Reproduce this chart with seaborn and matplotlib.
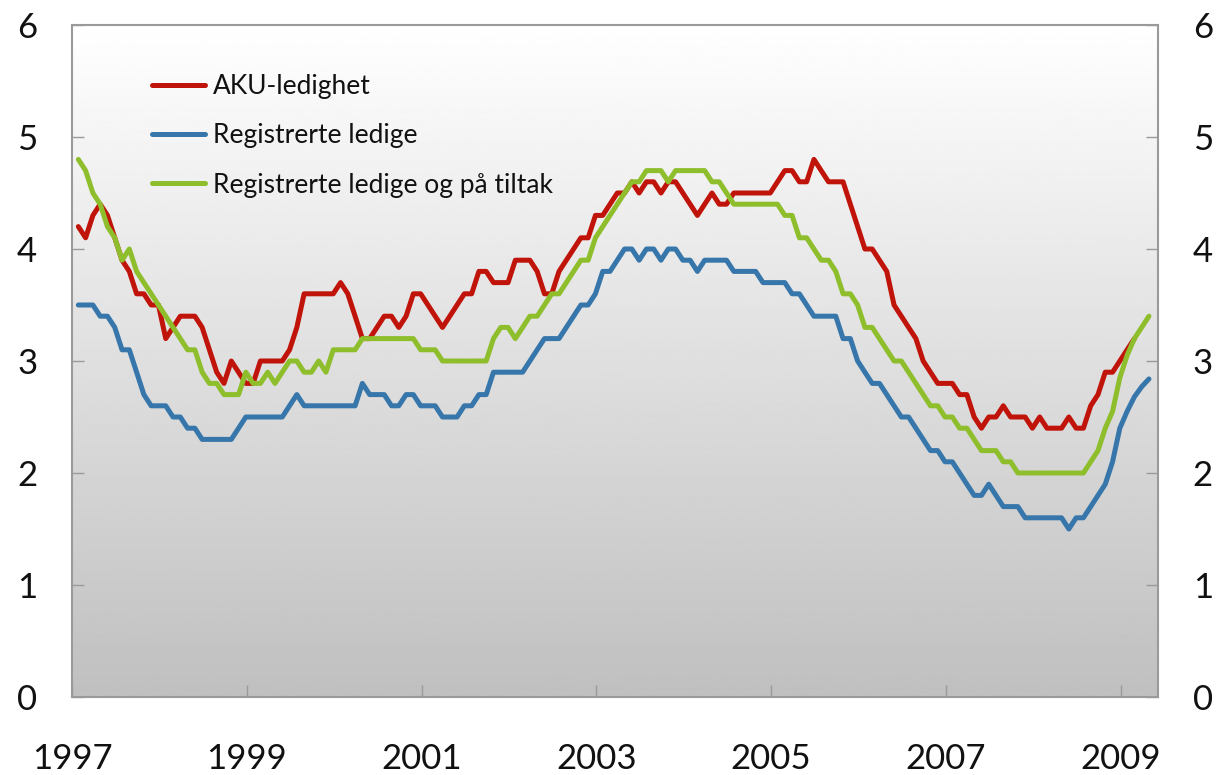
import matplotlib
matplotlib.use("Agg")
import matplotlib.pyplot as plt
import seaborn as sns
import numpy as np
import pandas as pd

# monthly values from Jan 1997
aku = [4.2, 4.1, 4.3, 4.4, 4.3, 4.1, 3.9, 3.8, 3.6, 3.6, 3.5, 3.5,
       3.2, 3.3, 3.4, 3.4, 3.4, 3.3, 3.1, 2.9, 2.8, 3.0, 2.9, 2.8,
       2.8, 3.0, 3.0, 3.0, 3.0, 3.1, 3.3, 3.6, 3.6, 3.6, 3.6, 3.6,
       3.7, 3.6, 3.4, 3.2, 3.2, 3.3, 3.4, 3.4, 3.3, 3.4, 3.6, 3.6,
       3.5, 3.4, 3.3, 3.4, 3.5, 3.6, 3.6, 3.8, 3.8, 3.7, 3.7, 3.7,
       3.9, 3.9, 3.9, 3.8, 3.6, 3.6, 3.8, 3.9, 4.0, 4.1, 4.1, 4.3,
       4.3, 4.4, 4.5, 4.5, 4.6, 4.5, 4.6, 4.6, 4.5, 4.6, 4.6, 4.5,
       4.4, 4.3, 4.4, 4.5, 4.4, 4.4, 4.5, 4.5, 4.5, 4.5, 4.5, 4.5,
       4.6, 4.7, 4.7, 4.6, 4.6, 4.8, 4.7, 4.6, 4.6, 4.6, 4.4, 4.2,
       4.0, 4.0, 3.9, 3.8, 3.5, 3.4, 3.3, 3.2, 3.0, 2.9, 2.8, 2.8,
       2.8, 2.7, 2.7, 2.5, 2.4, 2.5, 2.5, 2.6, 2.5, 2.5, 2.5, 2.4,
       2.5, 2.4, 2.4, 2.4, 2.5, 2.4, 2.4, 2.6, 2.7, 2.9, 2.9, 3.0,
       3.1, 3.2]

registrerte = [3.5, 3.5, 3.5, 3.4, 3.4, 3.3, 3.1, 3.1, 2.9, 2.7, 2.6, 2.6,
               2.6, 2.5, 2.5, 2.4, 2.4, 2.3, 2.3, 2.3, 2.3, 2.3, 2.4, 2.5,
               2.5, 2.5, 2.5, 2.5, 2.5, 2.6, 2.7, 2.6, 2.6, 2.6, 2.6, 2.6,
               2.6, 2.6, 2.6, 2.8, 2.7, 2.7, 2.7, 2.6, 2.6, 2.7, 2.7, 2.6,
               2.6, 2.6, 2.5, 2.5, 2.5, 2.6, 2.6, 2.7, 2.7, 2.9, 2.9, 2.9,
               2.9, 2.9, 3.0, 3.1, 3.2, 3.2, 3.2, 3.3, 3.4, 3.5, 3.5, 3.6,
               3.8, 3.8, 3.9, 4.0, 4.0, 3.9, 4.0, 4.0, 3.9, 4.0, 4.0, 3.9,
               3.9, 3.8, 3.9, 3.9, 3.9, 3.9, 3.8, 3.8, 3.8, 3.8, 3.7, 3.7,
               3.7, 3.7, 3.6, 3.6, 3.5, 3.4, 3.4, 3.4, 3.4, 3.2, 3.2, 3.0,
               2.9, 2.8, 2.8, 2.7, 2.6, 2.5, 2.5, 2.4, 2.3, 2.2, 2.2, 2.1,
               2.1, 2.0, 1.9, 1.8, 1.8, 1.9, 1.8, 1.7, 1.7, 1.7, 1.6, 1.6,
               1.6, 1.6, 1.6, 1.6, 1.5, 1.6, 1.6, 1.7, 1.8, 1.9, 2.1, 2.4,
               2.55, 2.68, 2.77, 2.84]

tiltak = [4.8, 4.7, 4.5, 4.4, 4.2, 4.1, 3.9, 4.0, 3.8, 3.7, 3.6, 3.5,
          3.4, 3.3, 3.2, 3.1, 3.1, 2.9, 2.8, 2.8, 2.7, 2.7, 2.7, 2.9,
          2.8, 2.8, 2.9, 2.8, 2.9, 3.0, 3.0, 2.9, 2.9, 3.0, 2.9, 3.1,
          3.1, 3.1, 3.1, 3.2, 3.2, 3.2, 3.2, 3.2, 3.2, 3.2, 3.2, 3.1,
          3.1, 3.1, 3.0, 3.0, 3.0, 3.0, 3.0, 3.0, 3.0, 3.2, 3.3, 3.3,
          3.2, 3.3, 3.4, 3.4, 3.5, 3.6, 3.6, 3.7, 3.8, 3.9, 3.9, 4.1,
          4.2, 4.3, 4.4, 4.5, 4.6, 4.6, 4.7, 4.7, 4.7, 4.6, 4.7, 4.7,
          4.7, 4.7, 4.7, 4.6, 4.6, 4.5, 4.4, 4.4, 4.4, 4.4, 4.4, 4.4,
          4.4, 4.3, 4.3, 4.1, 4.1, 4.0, 3.9, 3.9, 3.8, 3.6, 3.6, 3.5,
          3.3, 3.3, 3.2, 3.1, 3.0, 3.0, 2.9, 2.8, 2.7, 2.6, 2.6, 2.5,
          2.5, 2.4, 2.4, 2.3, 2.2, 2.2, 2.2, 2.1, 2.1, 2.0, 2.0, 2.0,
          2.0, 2.0, 2.0, 2.0, 2.0, 2.0, 2.0, 2.1, 2.2, 2.4, 2.55, 2.85,
          3.05, 3.2, 3.3, 3.4]

labels = ["AKU-ledighet", "Registrerte ledige", "Registrerte ledige og på tiltak"]
colors = ["#C0140A", "#3676AA", "#8EBE2C"]
year_ticks = [1997, 1999, 2001, 2003, 2005, 2007, 2009]


def monthly(values, name):
    t = 1997 + (np.arange(len(values)) + 0.87) / 12
    return pd.DataFrame({"dato": t, "verdi": values, "serie": name})


df = pd.concat([monthly(aku, labels[0]),
                monthly(registrerte, labels[1]),
                monthly(tiltak, labels[2])], ignore_index=True)

sns.set_style("ticks")
plt.rcParams["font.family"] = ["Lato", "DejaVu Sans"]
plt.rcParams["text.color"] = "#111111"

W, H = 1217, 775
fig = plt.figure(figsize=(W / 100, H / 100), dpi=100)
ax = fig.add_axes([72 / W, 78 / H, 1086 / W, 672 / H])

# grey gradient background
grad = np.linspace(0.75, 1.0, 256).reshape(-1, 1)
ax.imshow(grad, cmap="gray", vmin=0, vmax=1, aspect="auto",
          extent=[0, 1, 0, 1], transform=ax.transAxes, origin="lower", zorder=0)

sns.lineplot(data=df, x="dato", y="verdi", hue="serie", hue_order=labels,
             palette=colors, linewidth=3.6, ax=ax, zorder=2)

ax.set_xlim(1997, 2009.426)
ax.set_ylim(0, 6)
ax.set_xlabel("")
ax.set_ylabel("")
ax.set_xticks(year_ticks)
ax.set_xticklabels([str(y) for y in year_ticks])
ax.set_yticks(range(0, 7))

for s in ax.spines.values():
    s.set_visible(True)
    s.set_color("#9a9a9a")
    s.set_linewidth(1.5)

ax.tick_params(axis="y", direction="in", length=8.5, width=1, color="#9a9a9a",
               left=True, right=True, labelleft=True, labelright=True,
               labelsize=25, pad=25, labelcolor="#111111")
ax.tick_params(axis="x", direction="in", length=8.5, width=1, color="#9a9a9a",
               labelsize=25, pad=33, labelcolor="#111111")

leg = ax.legend(loc="upper left", bbox_to_anchor=(152 / W, 1 - 74 / H),
                bbox_transform=fig.transFigure, frameon=False, fontsize=19,
                handlelength=2.0, handletextpad=0.3, labelspacing=0.92,
                borderpad=0, borderaxespad=0)
for line in leg.get_lines():
    line.set_linewidth(3.6)
for t in leg.get_texts():
    t.set_color("#111111")

fig.savefig("out.png", dpi=100)
